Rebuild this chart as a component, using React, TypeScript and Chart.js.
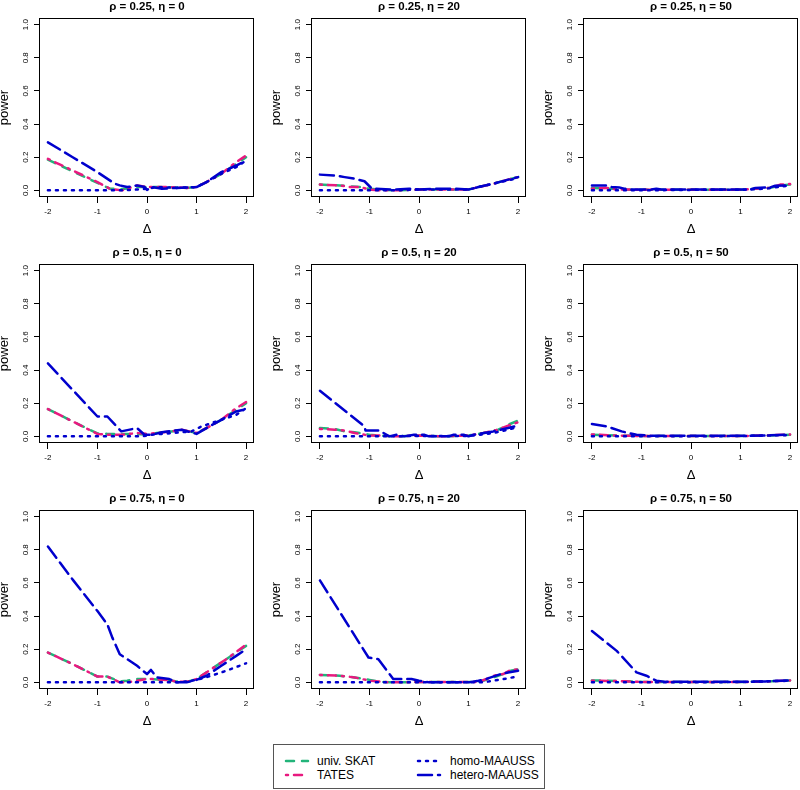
import React, { useEffect, useRef } from 'react';
import { Chart, registerables } from 'chart.js';

Chart.register(...registerables);

// ---------- data ----------
const X_TICKS = [-2, -1, 0, 1, 2];
const Y_TICKS = [0, 0.2, 0.4, 0.6, 0.8, 1.0];
const SERIES_NAMES = ['univ. SKAT', 'TATES', 'homo-MAAUSS', 'hetero-MAAUSS'];
const RHO = ['0.25', '0.5', '0.75'];
const ETA = ['0', '20', '50'];

type Pt = [number, number];

// rho = 0.25, eta = 0
const P1_SKAT: Pt[] = [[-2, 0.185], [-1.5, 0.115], [-1, 0.045], [-0.75, 0.01], [-0.5, 0.008], [-0.3, 0.015], [-0.2, 0.02], [0, 0.02], [0.4, 0.02], [0.8, 0.015], [1, 0.02], [1.2, 0.05], [1.5, 0.1], [1.8, 0.16], [2, 0.2]];
const P1_TATES: Pt[] = [[-2, 0.19], [-1.5, 0.12], [-1, 0.05], [-0.75, 0.01], [-0.5, 0.0], [-0.3, 0.02], [-0.2, 0.03], [0, 0.02], [0.4, 0.02], [0.8, 0.015], [1, 0.02], [1.2, 0.05], [1.5, 0.1], [1.8, 0.17], [2, 0.21]];
const P1_HOMO: Pt[] = [[-2, 0], [-0.5, 0], [-0.2, 0.005], [0, 0.01], [0.2, 0.02], [0.6, 0.015], [1, 0.02], [1.2, 0.05], [1.5, 0.1], [1.8, 0.14], [2, 0.18]];
const P1_HETERO: Pt[] = [[-2, 0.29], [-1.5, 0.2], [-1, 0.11], [-0.65, 0.04], [-0.55, 0.03], [-0.4, 0.02], [-0.2, 0.03], [-0.05, 0.02], [0, 0.003], [0.1, 0.02], [0.3, 0.01], [0.6, 0.015], [1, 0.02], [1.2, 0.05], [1.5, 0.11], [1.8, 0.15], [2, 0.18]];

// rho = 0.25, eta = 20
const P2_SKAT: Pt[] = [[-2, 0.035], [-1.6, 0.03], [-1.4, 0.025], [-1.2, 0.02], [-1, 0.01], [-0.8, 0.005], [-0.5, 0], [0, 0.005], [0.4, 0.005], [0.8, 0.005], [1, 0.005], [1.2, 0.02], [1.5, 0.04], [1.8, 0.065], [2, 0.08]];
const P2_TATES: Pt[] = [[-2, 0.035], [-1.6, 0.03], [-1.4, 0.02], [-1.2, 0.02], [-1, 0.005], [-0.8, 0.0], [-0.5, 0], [0, 0.005], [0.4, 0.005], [0.8, 0.005], [1, 0.005], [1.2, 0.02], [1.5, 0.04], [1.8, 0.065], [2, 0.08]];
const P2_HOMO: Pt[] = [[-2, 0], [-1, 0], [-0.5, 0], [0, 0.005], [1, 0.005], [1.2, 0.02], [1.5, 0.04], [1.8, 0.06], [2, 0.075]];
const P2_HETERO: Pt[] = [[-2, 0.095], [-1.7, 0.09], [-1.5, 0.08], [-1.3, 0.07], [-1.1, 0.055], [-0.95, 0.01], [-0.5, 0.005], [-0.2, 0.01], [0, 0.005], [0.4, 0.01], [0.7, 0.01], [1, 0.005], [1.2, 0.02], [1.5, 0.04], [1.8, 0.065], [2, 0.08]];

// rho = 0.25, eta = 50
const P3_SKAT: Pt[] = [[-2, 0.015], [-1.7, 0.01], [-1.5, 0.01], [-1.3, 0.005], [-1, 0.003], [0, 0.003], [1, 0.003], [1.3, 0.01], [1.6, 0.015], [1.8, 0.03], [2, 0.035]];
const P3_TATES: Pt[] = [[-2, 0.01], [-1.7, 0.015], [-1.5, 0.005], [-1.3, 0.005], [-1, 0.003], [0, 0.003], [1, 0.003], [1.3, 0.01], [1.6, 0.015], [1.8, 0.035], [2, 0.038]];
const P3_HOMO: Pt[] = [[-2, 0], [-1, 0], [0, 0.003], [1, 0.003], [1.5, 0.01], [2, 0.03]];
const P3_HETERO: Pt[] = [[-2, 0.03], [-1.7, 0.03], [-1.6, 0.02], [-1.45, 0.018], [-1.35, 0.01], [-1.2, 0.005], [-0.8, 0.005], [-0.7, 0.01], [-0.6, 0.005], [1.2, 0.005], [1.3, 0.015], [1.6, 0.018], [1.7, 0.028], [2, 0.03]];

// rho = 0.5, eta = 0
const P4_SKAT: Pt[] = [[-2, 0.165], [-1.5, 0.09], [-1, 0.018], [-0.8, 0.015], [-0.5, 0.015], [-0.2, 0.015], [0, 0.01], [0.2, 0.02], [0.5, 0.03], [0.7, 0.04], [1, 0.02], [1.2, 0.05], [1.5, 0.1], [1.8, 0.16], [2, 0.2]];
const P4_TATES: Pt[] = [[-2, 0.165], [-1.5, 0.09], [-1, 0.015], [-0.8, 0.01], [-0.5, 0.01], [-0.2, 0.02], [0, 0.015], [0.2, 0.02], [0.5, 0.03], [0.7, 0.04], [1, 0.02], [1.2, 0.05], [1.5, 0.1], [1.8, 0.17], [2, 0.207]];
const P4_HOMO: Pt[] = [[-2, 0], [-0.1, 0], [0.1, 0.01], [0.5, 0.02], [0.9, 0.03], [1.1, 0.06], [1.5, 0.1], [1.8, 0.13], [2, 0.17]];
const P4_HETERO: Pt[] = [[-2, 0.44], [-1.5, 0.28], [-1, 0.12], [-0.8, 0.12], [-0.52, 0.03], [-0.2, 0.05], [-0.05, 0.01], [0.1, 0.01], [0.3, 0.025], [0.7, 0.04], [1, 0.015], [1.2, 0.05], [1.5, 0.1], [1.8, 0.15], [2, 0.165]];

// rho = 0.5, eta = 20
const P5_SKAT: Pt[] = [[-2, 0.05], [-1.7, 0.045], [-1.5, 0.03], [-1.3, 0.025], [-1, 0.01], [-0.8, 0.005], [-0.5, 0.0], [0, 0.005], [0.5, 0.0], [1, 0.005], [1.3, 0.02], [1.6, 0.04], [1.8, 0.07], [2, 0.095]];
const P5_TATES: Pt[] = [[-2, 0.045], [-1.7, 0.04], [-1.5, 0.035], [-1.3, 0.02], [-1, 0.005], [-0.8, 0.005], [-0.5, 0.0], [0, 0.005], [0.5, 0.0], [1, 0.005], [1.3, 0.02], [1.6, 0.04], [1.8, 0.065], [2, 0.085]];
const P5_HOMO: Pt[] = [[-2, 0], [-1, 0], [0, 0.002], [1, 0.002], [1.5, 0.02], [2, 0.055]];
const P5_HETERO: Pt[] = [[-2, 0.275], [-1.1, 0.06], [-1.08, 0.035], [-0.8, 0.035], [-0.6, 0.0], [-0.45, 0.01], [-0.3, 0.0], [-0.1, 0.01], [0.1, 0.01], [0.2, 0.0], [0.6, 0.0], [0.7, 0.01], [0.9, 0.01], [1, 0.0], [1.1, 0.01], [1.5, 0.03], [1.8, 0.05], [2, 0.065]];

// rho = 0.5, eta = 50
const P6_SKAT: Pt[] = [[-2, 0.01], [-1.5, 0.005], [-1, 0.002], [0, 0.002], [1, 0.002], [1.5, 0.005], [2, 0.01]];
const P6_TATES: Pt[] = [[-2, 0.012], [-1.5, 0.005], [-1, 0.002], [0, 0.002], [1, 0.002], [1.5, 0.005], [2, 0.012]];
const P6_HOMO: Pt[] = [[-2, 0], [0, 0], [1, 0.002], [2, 0.008]];
const P6_HETERO: Pt[] = [[-2, 0.075], [-1.7, 0.06], [-1.4, 0.03], [-1.1, 0.01], [-0.8, 0.003], [1, 0.003], [1.5, 0.005], [2, 0.012]];

// rho = 0.75, eta = 0
const P7_SKAT: Pt[] = [[-2, 0.18], [-1.5, 0.11], [-1, 0.035], [-0.8, 0.035], [-0.55, 0.005], [-0.4, 0.01], [-0.2, 0.02], [0, 0.02], [0.4, 0.015], [0.6, 0.005], [0.8, 0.003], [1, 0.02], [1.3, 0.08], [1.6, 0.14], [2, 0.22]];
const P7_TATES: Pt[] = [[-2, 0.18], [-1.5, 0.11], [-1, 0.035], [-0.8, 0.035], [-0.55, 0.0], [-0.35, 0.003], [-0.2, 0.01], [0, 0.022], [0.4, 0.015], [0.6, 0.005], [0.8, 0.003], [1, 0.02], [1.3, 0.08], [1.6, 0.14], [2, 0.228]];
const P7_HOMO: Pt[] = [[-2, 0], [0.6, 0], [0.8, 0.005], [1, 0.015], [1.3, 0.04], [1.6, 0.07], [2, 0.115]];
const P7_HETERO: Pt[] = [[-2, 0.82], [-1.5, 0.62], [-1, 0.43], [-0.8, 0.35], [-0.7, 0.27], [-0.55, 0.17], [-0.2, 0.1], [0, 0.05], [0.08, 0.075], [0.2, 0.03], [0.45, 0.02], [0.6, 0.0], [0.8, 0.0], [1, 0.015], [1.2, 0.04], [1.5, 0.1], [1.8, 0.16], [2, 0.2]];

// rho = 0.75, eta = 20
const P8_SKAT: Pt[] = [[-2, 0.045], [-1.6, 0.04], [-1.3, 0.03], [-1, 0.015], [-0.8, 0.005], [-0.6, 0.0], [0, 0.002], [1.2, 0.002], [1.4, 0.02], [1.5, 0.03], [1.7, 0.05], [1.85, 0.07], [2, 0.078]];
const P8_TATES: Pt[] = [[-2, 0.045], [-1.6, 0.04], [-1.3, 0.03], [-1, 0.01], [-0.8, 0.005], [-0.6, 0.0], [0, 0.002], [1.2, 0.002], [1.4, 0.025], [1.5, 0.04], [1.7, 0.05], [1.85, 0.075], [2, 0.078]];
const P8_HOMO: Pt[] = [[-2, 0], [1.3, 0], [1.5, 0.01], [1.8, 0.025], [2, 0.036]];
const P8_HETERO: Pt[] = [[-2, 0.615], [-1.02, 0.15], [-0.82, 0.14], [-0.52, 0.02], [-0.15, 0.02], [0, 0.01], [0.2, 0.0], [1.0, 0.0], [1.2, 0.01], [1.35, 0.02], [1.45, 0.03], [1.65, 0.05], [1.8, 0.06], [2, 0.07]];

// rho = 0.75, eta = 50
const P9_SKAT: Pt[] = [[-2, 0.012], [-1.5, 0.008], [-1, 0.003], [0, 0.002], [1, 0.002], [1.5, 0.005], [2, 0.012]];
const P9_TATES: Pt[] = [[-2, 0.01], [-1.5, 0.008], [-1, 0.003], [0, 0.002], [1, 0.002], [1.5, 0.005], [2, 0.012]];
const P9_HOMO: Pt[] = [[-2, 0], [0, 0], [1, 0.002], [2, 0.01]];
const P9_HETERO: Pt[] = [[-2, 0.31], [-1.5, 0.19], [-1.1, 0.06], [-0.9, 0.04], [-0.7, 0.01], [-0.5, 0.003], [1, 0.003], [1.5, 0.006], [2, 0.012]];

const PANEL_SERIES: Pt[][][] = [
  [P1_SKAT, P1_TATES, P1_HOMO, P1_HETERO],
  [P2_SKAT, P2_TATES, P2_HOMO, P2_HETERO],
  [P3_SKAT, P3_TATES, P3_HOMO, P3_HETERO],
  [P4_SKAT, P4_TATES, P4_HOMO, P4_HETERO],
  [P5_SKAT, P5_TATES, P5_HOMO, P5_HETERO],
  [P6_SKAT, P6_TATES, P6_HOMO, P6_HETERO],
  [P7_SKAT, P7_TATES, P7_HOMO, P7_HETERO],
  [P8_SKAT, P8_TATES, P8_HOMO, P8_HETERO],
  [P9_SKAT, P9_TATES, P9_HOMO, P9_HETERO],
];

// ---------- style ----------
const FONT = '"Liberation Sans", Arial, Helvetica, sans-serif';
const COLORS = ['#22B47A', '#E8197F', '#0000CD', '#0000CD'];
const DASHES = [[8, 8], [2, 6, 8, 6], [2, 6], [14, 6]];
const ORDERS = [3, 2, 1, 0];
const LINE_W = 2.5;
const COL_LEFT = [0, 272, 544];
const ROW_TOP = [0, 246, 492];
const CW = 262;
const CH = 246;

const boxPlugin = {
  id: 'rbox',
  afterDraw(chart: any) {
    const { ctx, chartArea: a } = chart;
    ctx.save();
    ctx.strokeStyle = '#000';
    ctx.lineWidth = 1;
    const l = Math.round(a.left) - 0.5;
    const t = Math.round(a.top) + 0.5;
    const r = Math.round(a.right) - 0.5;
    const b = Math.round(a.bottom) - 0.5;
    ctx.strokeRect(l, t, r - l, b - t);
    ctx.restore();
  },
};

function Panel({ idx }: { idx: number }) {
  const ref = useRef<HTMLCanvasElement | null>(null);
  useEffect(() => {
    const row = Math.floor(idx / 3);
    const col = idx % 3;
    const series = PANEL_SERIES[idx];
    const datasets = series.map((pts, i) => ({
      label: SERIES_NAMES[i],
      data: pts.map(([x, y]) => ({ x, y })),
      borderColor: COLORS[i],
      backgroundColor: COLORS[i],
      borderDash: DASHES[i],
      borderWidth: LINE_W,
      borderCapStyle: 'round' as const,
      borderJoinStyle: 'round' as const,
      pointRadius: 0,
      pointHoverRadius: 0,
      fill: false,
      tension: 0,
      order: ORDERS[i],
    }));
    const chart = new Chart(ref.current as HTMLCanvasElement, {
      type: 'line',
      data: { datasets },
      options: {
        animation: false,
        responsive: false,
        devicePixelRatio: 1,
        events: [],
        layout: { padding: { left: 0, right: 8, top: 0, bottom: 0 } },
        plugins: {
          legend: { display: false },
          tooltip: { enabled: false },
          title: {
            display: true,
            text: `ρ = ${RHO[row]}, η = ${ETA[col]}`,
            fullSize: false,
            color: '#000',
            font: { family: FONT, size: 11.5, weight: 'bold', lineHeight: 1.2 },
            padding: { top: 0, bottom: 4.2 },
          },
        },
        scales: {
          x: {
            type: 'linear',
            min: -2.16,
            max: 2.16,
            afterBuildTicks: (s: any) => {
              s.ticks = X_TICKS.map((v) => ({ value: v }));
            },
            afterFit: (s: any) => {
              s.height = 49;
            },
            grid: { drawOnChartArea: false, drawTicks: true, tickLength: 6, color: '#000', lineWidth: 1 },
            border: { display: false },
            ticks: {
              autoSkip: false,
              maxRotation: 0,
              minRotation: 0,
              padding: 4,
              color: '#000',
              font: { family: FONT, size: 8 },
              callback: (v: any) => String(v),
            },
            title: {
              display: true,
              text: 'Δ',
              color: '#000',
              font: { family: FONT, size: 13, lineHeight: 1.2 },
              padding: { top: 0, bottom: 9 },
            },
          },
          y: {
            type: 'linear',
            min: -0.04,
            max: 1.04,
            afterBuildTicks: (s: any) => {
              s.ticks = Y_TICKS.map((v) => ({ value: v }));
            },
            afterFit: (s: any) => {
              s.width = 40;
            },
            grid: { drawOnChartArea: false, drawTicks: true, tickLength: 6, color: '#000', lineWidth: 1 },
            border: { display: false },
            ticks: {
              autoSkip: false,
              minRotation: 90,
              maxRotation: 90,
              crossAlign: 'center',
              padding: 2.5,
              color: '#000',
              font: { family: FONT, size: 8 },
              callback: (v: any) => Number(v).toFixed(1),
            },
            title: {
              display: true,
              text: 'power',
              color: '#000',
              font: { family: FONT, size: 13, lineHeight: 1.2 },
              padding: { top: -3, bottom: 0 },
            },
          },
        },
      },
      plugins: [boxPlugin],
    } as any);
    return () => chart.destroy();
  }, [idx]);
  const row = Math.floor(idx / 3);
  const col = idx % 3;
  return (
    <canvas
      ref={ref}
      width={CW}
      height={CH}
      style={{ position: 'absolute', left: COL_LEFT[col], top: ROW_TOP[row], width: CW, height: CH }}
    />
  );
}

function LegendSample({ i, x1, x2, y }: { i: number; x1: number; x2: number; y: number }) {
  return (
    <line
      x1={x1}
      x2={x2}
      y1={y}
      y2={y}
      stroke={COLORS[i]}
      strokeWidth={LINE_W}
      strokeDasharray={DASHES[i].join(' ')}
      strokeLinecap="round"
    />
  );
}

function Legend() {
  const textStyle = (left: number, top: number): React.CSSProperties => ({
    position: 'absolute',
    left,
    top,
    fontFamily: FONT,
    fontSize: 12,
    lineHeight: '14px',
    color: '#000',
    whiteSpace: 'nowrap',
  });
  return (
    <div
      style={{
        position: 'absolute',
        left: 273,
        top: 744,
        width: 272,
        height: 45,
        border: '1px solid #555',
        boxSizing: 'border-box',
        background: '#fff',
      }}
    >
      <svg width={270} height={43} style={{ position: 'absolute', left: 0, top: 0 }}>
        <LegendSample i={0} x1={12} x2={34} y={16} />
        <LegendSample i={1} x1={12} x2={34} y={30} />
        <LegendSample i={2} x1={144} x2={166} y={16} />
        <LegendSample i={3} x1={144} x2={166} y={30} />
      </svg>
      <span style={textStyle(43, 9)}>{SERIES_NAMES[0]}</span>
      <span style={textStyle(43, 23)}>{SERIES_NAMES[1]}</span>
      <span style={textStyle(176, 9)}>{SERIES_NAMES[2]}</span>
      <span style={textStyle(176, 23)}>{SERIES_NAMES[3]}</span>
    </div>
  );
}

export default function App() {
  return (
    <div
      style={{
        position: 'fixed',
        left: 0,
        top: 0,
        width: 800,
        height: 790,
        overflow: 'hidden',
        background: '#fff',
      }}
    >
      {[0, 1, 2, 3, 4, 5, 6, 7, 8].map((i) => (
        <Panel key={i} idx={i} />
      ))}
      <Legend />
    </div>
  );
}
